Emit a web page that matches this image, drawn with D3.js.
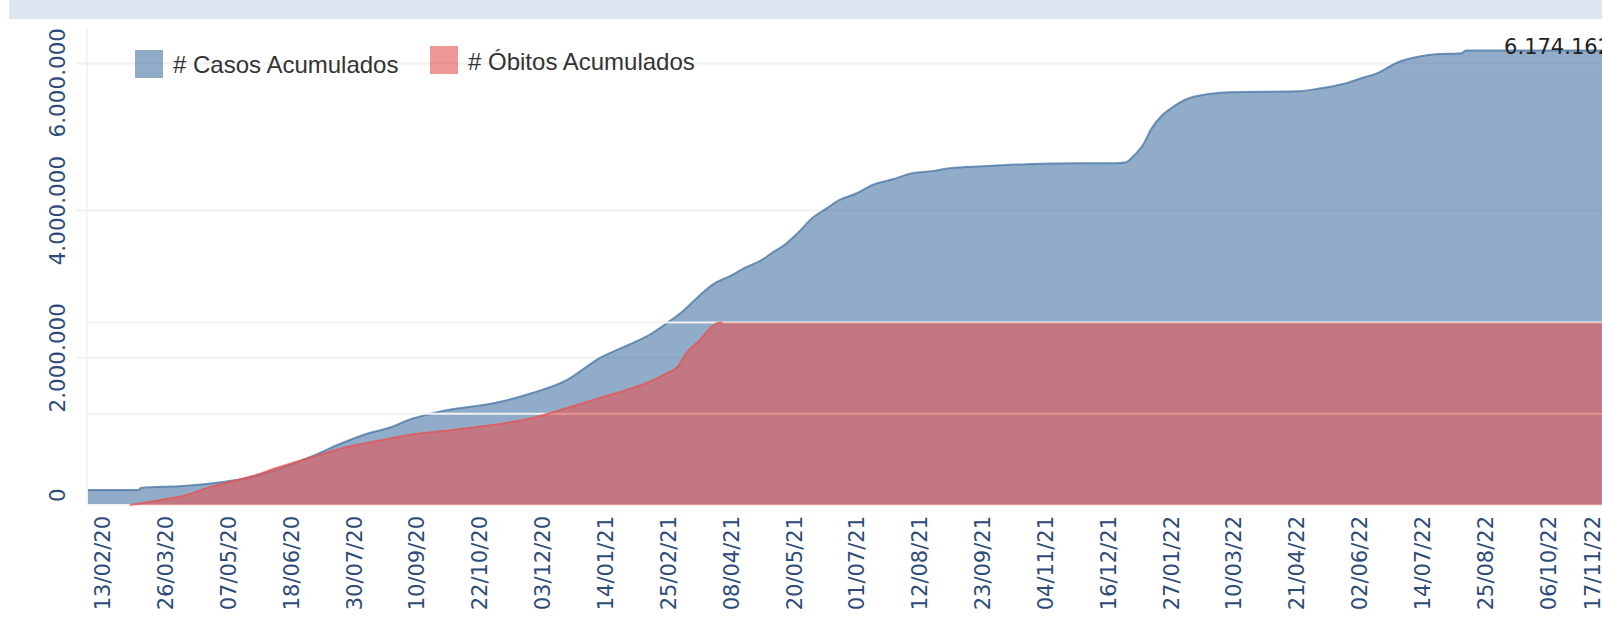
<!DOCTYPE html>
<html>
<head>
<meta charset="utf-8">
<script src="https://cdn.jsdelivr.net/npm/d3@7"></script>
<style>
  body { margin: 0; background: #fff; }
  svg { display: block; }
</style>
</head>
<body>
<div id="chart"></div>
<script>
/*
 * Casos e obitos acumulados - area chart (dual axis, deaths axis hidden)
 */

// cumulative cases
var casosDatas = [
  "2020-02-03", "2020-03-08", "2020-03-09", "2020-04-06", "2020-04-22", "2020-05-03",
  "2020-05-16", "2020-05-30", "2020-06-17", "2020-07-02", "2020-07-22", "2020-08-09",
  "2020-08-24", "2020-09-04", "2020-09-24", "2020-11-04", "2020-11-26", "2020-12-19",
  "2021-01-10", "2021-02-01", "2021-02-12", "2021-02-24", "2021-03-06", "2021-03-18",
  "2021-03-27", "2021-04-07", "2021-04-18", "2021-04-27", "2021-05-05", "2021-05-15",
  "2021-05-23", "2021-06-01", "2021-06-11", "2021-06-19", "2021-07-01", "2021-07-11",
  "2021-07-25", "2021-08-07", "2021-08-20", "2021-09-01", "2021-09-23", "2021-10-22",
  "2021-11-27", "2021-12-20", "2021-12-28", "2022-01-01", "2022-01-08", "2022-01-14",
  "2022-01-21", "2022-01-28", "2022-02-02", "2022-02-08", "2022-02-20", "2022-03-07",
  "2022-04-21", "2022-05-07", "2022-05-24", "2022-06-03", "2022-06-15", "2022-06-26",
  "2022-07-13", "2022-07-23", "2022-08-09", "2022-08-12", "2022-11-17"
];
var casosAcumulados = [
  204000, 204000, 231000, 258000, 285000, 312000,
  353000, 421000, 543000, 665000, 842000, 978000,
  1059000, 1154000, 1263000, 1399000, 1521000, 1697000,
  1996000, 2200000, 2308000, 2471000, 2621000, 2851000,
  3001000, 3109000, 3232000, 3313000, 3422000, 3557000,
  3707000, 3897000, 4033000, 4141000, 4236000, 4345000,
  4426000, 4508000, 4535000, 4576000, 4603000, 4630000,
  4644000, 4644000, 4657000, 4725000, 4888000, 5119000,
  5295000, 5404000, 5472000, 5526000, 5581000, 5608000,
  5621000, 5662000, 5730000, 5798000, 5879000, 6001000,
  6096000, 6123000, 6137000, 6174162, 6174162
];

// cumulative deaths (secondary axis, flat once it hits the top of its band)
var obitosDatas = [
  "2020-03-02", "2020-03-15", "2020-03-26", "2020-04-09", "2020-04-22", "2020-05-05",
  "2020-05-23", "2020-06-08", "2020-06-23", "2020-07-11", "2020-07-25", "2020-08-14",
  "2020-09-04", "2020-09-27", "2020-10-20", "2020-11-04", "2020-11-26", "2020-12-08",
  "2020-12-19", "2021-01-10", "2021-02-01", "2021-02-12", "2021-02-24", "2021-03-03",
  "2021-03-09", "2021-03-18", "2021-03-25", "2021-03-30", "2021-04-02", "2022-11-17"
];
var obitosAcumulados = [
  0, 1300, 2600, 4400, 7400, 9600,
  12700, 16200, 19300, 22800, 25400, 28000,
  30700, 32400, 34200, 35500, 38100, 40300,
  42500, 46900, 51300, 53900, 57800, 60500,
  66600, 72300, 77600, 79800, 80000, 80000
];

var yTicks = [0, 2000000, 4000000, 6000000];
var obitosGrid = [0, 40000, 80000];
var xTickLabels = [
  "13/02/20", "26/03/20", "07/05/20", "18/06/20", "30/07/20", "10/09/20", "22/10/20",
  "03/12/20", "14/01/21", "25/02/21", "08/04/21", "20/05/21", "01/07/21", "12/08/21",
  "23/09/21", "04/11/21", "16/12/21", "27/01/22", "10/03/22", "21/04/22", "02/06/22",
  "14/07/22", "25/08/22", "06/10/22", "17/11/22"
];
var legendLabels = ["# Casos Acumulados", "# Óbitos Acumulados"];
var cores = ["#4e79a7", "#e15759"];

function chartBasics() {
  var margin = {top: 28, left: 87, bottom: 114},
      width = 1602,
      height = 619;
  return { margin: margin, width: width, height: height };
}

function drawChart() {
  var basics = chartBasics();
  var margin = basics.margin,
      width = basics.width,
      height = basics.height,
      bottom = height - margin.bottom;

  var parseDay = d3.timeParse("%Y-%m-%d"),
      parseTick = d3.timeParse("%d/%m/%y");
  var ptBR = d3.formatLocale({decimal: ",", thousands: ".", grouping: [3], currency: ["R$", ""]});
  var fmt = ptBR.format(",d");

  var casos = casosDatas.map(function(d, i) { return {date: parseDay(d), v: casosAcumulados[i]}; });
  var obitos = obitosDatas.map(function(d, i) { return {date: parseDay(d), v: obitosAcumulados[i]}; });

  var x = d3.scaleTime()
      .domain([casos[0].date, casos[casos.length - 1].date])
      .range([margin.left + 1, 1611]);
  var y = d3.scaleLinear()
      .domain([0, 6481000])
      .range([bottom, margin.top]);
  var yObitos = d3.scaleLinear()
      .domain([0, 209000])
      .range([bottom, margin.top]);

  var svg = d3.select("#chart").append("svg")
      .attr("width", width)
      .attr("height", height);

  // title band (title itself is cut off in the source)
  svg.append("rect")
      .attr("x", 9).attr("y", 0)
      .attr("width", width - 9).attr("height", 19)
      .attr("fill", "#dce6f1");

  // primary gridlines
  svg.append("g").selectAll("line")
      .data(yTicks.slice(1))
      .join("line")
      .attr("x1", margin.left - 10).attr("x2", width)
      .attr("y1", function(d) { return y(d); })
      .attr("y2", function(d) { return y(d); })
      .attr("stroke", "#f0f0f0")
      .attr("stroke-width", 2);

  svg.append("line")
      .attr("x1", margin.left).attr("x2", margin.left)
      .attr("y1", margin.top).attr("y2", bottom)
      .attr("stroke", "#f0f0f0")
      .attr("stroke-width", 1.5);

  // casos
  var areaCasos = d3.area()
      .x(function(d) { return x(d.date); })
      .y0(y(0))
      .y1(function(d) { return y(d.v); })
      .curve(d3.curveMonotoneX);
  var lineCasos = d3.line()
      .x(function(d) { return x(d.date); })
      .y(function(d) { return y(d.v); })
      .curve(d3.curveMonotoneX);

  svg.append("path")
      .datum(casos)
      .attr("d", areaCasos)
      .attr("fill", cores[0])
      .attr("fill-opacity", 0.62);
  svg.append("path")
      .datum(casos)
      .attr("d", lineCasos)
      .attr("fill", "none")
      .attr("stroke", cores[0])
      .attr("stroke-opacity", 0.8)
      .attr("stroke-width", 2);

  // secondary (deaths) gridlines sit above the blue pane
  svg.append("g").selectAll("line")
      .data(obitosGrid)
      .join("line")
      .attr("x1", margin.left).attr("x2", width)
      .attr("y1", function(d) { return yObitos(d); })
      .attr("y2", function(d) { return yObitos(d); })
      .attr("stroke", "#f2f2f2")
      .attr("stroke-width", 2);

  // obitos
  var cap = d3.max(obitosAcumulados);
  var areaObitos = d3.area()
      .x(function(d) { return x(d.date); })
      .y0(yObitos(0))
      .y1(function(d) { return yObitos(d.v); })
      .curve(d3.curveMonotoneX);
  var lineObitos = d3.line()
      .defined(function(d, i) { return i === 0 || obitos[i - 1].v < cap; })
      .x(function(d) { return x(d.date); })
      .y(function(d) { return yObitos(d.v); })
      .curve(d3.curveMonotoneX);

  svg.append("path")
      .datum(obitos)
      .attr("d", areaObitos)
      .attr("fill", cores[1])
      .attr("fill-opacity", 0.62);
  svg.append("path")
      .datum(obitos)
      .attr("d", lineObitos)
      .attr("fill", "none")
      .attr("stroke", cores[1])
      .attr("stroke-opacity", 0.8)
      .attr("stroke-width", 2);

  /* axis labels -- start */
  var axisColor = "#2d4b78";

  var yLab = svg.append("g").selectAll("text")
      .data(yTicks)
      .join("text")
      .text(function(d) { return fmt(d); })
      .attr("font-family", "DejaVu Sans")
      .attr("font-size", 21.5)
      .attr("fill", axisColor)
      .attr("text-anchor", "middle")
      .attr("dy", "0.35em");
  // keep the labels inside the pane like Tableau does
  yLab.attr("transform", function(d) {
    var half = this.getComputedTextLength() / 2;
    var cy = Math.max(margin.top + half, Math.min(bottom - half - 3, y(d)));
    return "translate(57," + cy + ") rotate(-90)";
  });

  svg.append("g").selectAll("text")
      .data(xTickLabels)
      .join("text")
      .text(function(d) { return d; })
      .attr("font-family", "DejaVu Sans")
      .attr("font-size", 21)
      .attr("fill", axisColor)
      .attr("text-anchor", "end")
      .attr("dy", "0.35em")
      .attr("transform", function(d) {
        var cx = Math.min(x(parseTick(d)), width - 9);
        return "translate(" + cx + ",516) rotate(-90)";
      });

  // last value label
  var last = casos[casos.length - 1];
  svg.append("text")
      .text(fmt(last.v))
      .attr("x", x(last.date))
      .attr("y", y(last.v))
      .attr("dy", 3)
      .attr("text-anchor", "end")
      .attr("font-family", "DejaVu Sans")
      .attr("font-size", 21)
      .attr("fill", "#222");

  /* legend */
  var legendPos = [{sx: 135, sy: 50, tx: 173, ty: 73}, {sx: 430, sy: 46, tx: 468, ty: 70}];
  var leg = svg.append("g").selectAll("g")
      .data(legendLabels)
      .join("g");
  leg.append("rect")
      .attr("x", function(d, i) { return legendPos[i].sx; })
      .attr("y", function(d, i) { return legendPos[i].sy; })
      .attr("width", 28).attr("height", 28)
      .attr("fill", function(d, i) { return cores[i]; })
      .attr("fill-opacity", 0.62);
  leg.append("text")
      .text(function(d) { return d; })
      .attr("x", function(d, i) { return legendPos[i].tx; })
      .attr("y", function(d, i) { return legendPos[i].ty; })
      .attr("font-family", "Liberation Sans, Arial, sans-serif")
      .attr("font-size", 24)
      .attr("fill", "#333");
}
drawChart();
</script>
</body>
</html>
